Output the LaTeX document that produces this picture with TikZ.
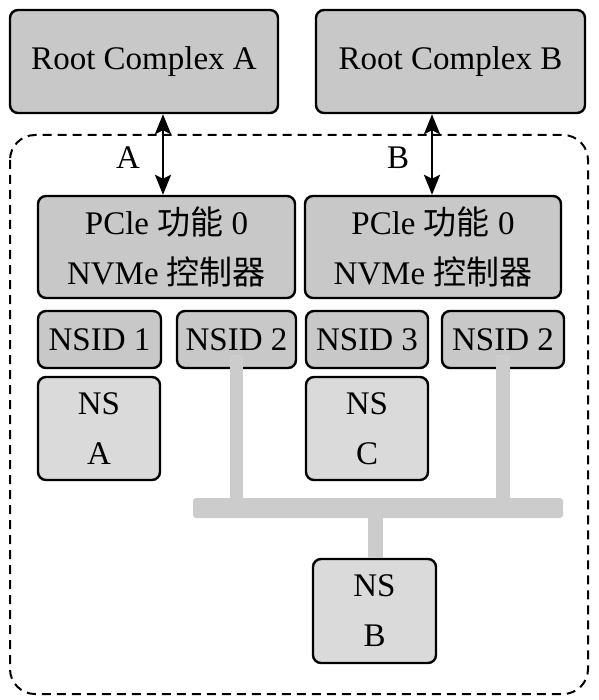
\documentclass[tikz,border=0pt]{standalone}
\usepackage{fontspec}
\setmainfont{Liberation Serif}
\newfontfamily\cjk{Noto Sans CJK SC}
\usetikzlibrary{arrows.meta}
\definecolor{boxgray}{RGB}{200,200,200}
\definecolor{nsgray}{RGB}{218,218,218}
\definecolor{bargray}{RGB}{204,204,204}
\begin{document}
\begin{tikzpicture}[x=1pt,y=-1pt,
  box/.style={draw=black, line width=2.4pt, rounded corners=8pt, fill=boxgray,
    inner sep=0pt, align=center, font=\fontsize{33}{50}\selectfont},
  nsbox/.style={box, fill=nsgray},
  bar/.style={draw=bargray, line cap=butt},
  arr/.style={line width=2.8pt, {Stealth[length=20pt,width=16pt,inset=4pt]}-{Stealth[length=20pt,width=16pt,inset=4pt]}},
  lbl/.style={font=\fontsize{33}{40}\selectfont, inner sep=0pt}]
\useasboundingbox (0,0) rectangle (598,700);
% dashed enclosure
\draw[line width=2pt, dash pattern=on 9pt off 6pt, rounded corners=25pt] (10,135) rectangle (588,694);
% root complexes
\node[box, minimum width=268pt, minimum height=103pt] (rca) at (144,61.5) {Root Complex A};
\node[box, minimum width=269pt, minimum height=103pt] (rcb) at (450.5,61.5) {Root Complex B};
% controllers
\node[box, minimum width=257pt, minimum height=102pt] (pa) at (166.5,247) {PCle {\cjk 功能} 0\\NVMe {\cjk 控制器}};
\node[box, minimum width=256pt, minimum height=102pt] (pb) at (433,247) {PCle {\cjk 功能} 0\\NVMe {\cjk 控制器}};
% NSIDs
\node[box, minimum width=123pt, minimum height=57pt] (n1) at (99.5,339.5) {NSID 1};
\node[box, minimum width=119pt, minimum height=57pt] (n2a) at (236.5,339.5) {NSID 2};
\node[box, minimum width=122pt, minimum height=57pt] (n3) at (367,339.5) {NSID 3};
\node[box, minimum width=122pt, minimum height=57pt] (n2b) at (503,339.5) {NSID 2};
% namespaces
\node[nsbox, minimum width=122pt, minimum height=103pt] (nsa) at (99,428.5) {NS\\A};
\node[nsbox, minimum width=122pt, minimum height=103pt] (nsc) at (367,428.5) {NS\\C};
\node[nsbox, minimum width=123pt, minimum height=104pt] (nsb) at (374.5,611) {NS\\B};
% shared-namespace bars
\coordinate (hl) at (193,498);
\coordinate (hr) at (563,518);
\coordinate (ja) at (236,508);
\coordinate (jb) at (503,508);
\coordinate (jm) at (375.5,508);
\draw[bar, line width=13pt] ([yshift=14pt]n2a.south -| ja) -- (ja);
\draw[bar, line width=14pt] ([yshift=14pt]n2b.south -| jb) -- (jb);
\fill[bargray, rounded corners=3pt] (hl) rectangle (hr);
\draw[bar, line width=15pt] (jm) -- (nsb.north -| jm);
% host links
\coordinate (xa) at (163,0);
\coordinate (xb) at (432,0);
\draw[arr] (rca.south -| xa) -- (pa.north -| xa);
\draw[arr] (rcb.south -| xb) -- (pb.north -| xb);
\node[lbl] (la) at (128,158) {A};
\node[lbl] (lb) at (398,158) {B};
\end{tikzpicture}
\end{document}
